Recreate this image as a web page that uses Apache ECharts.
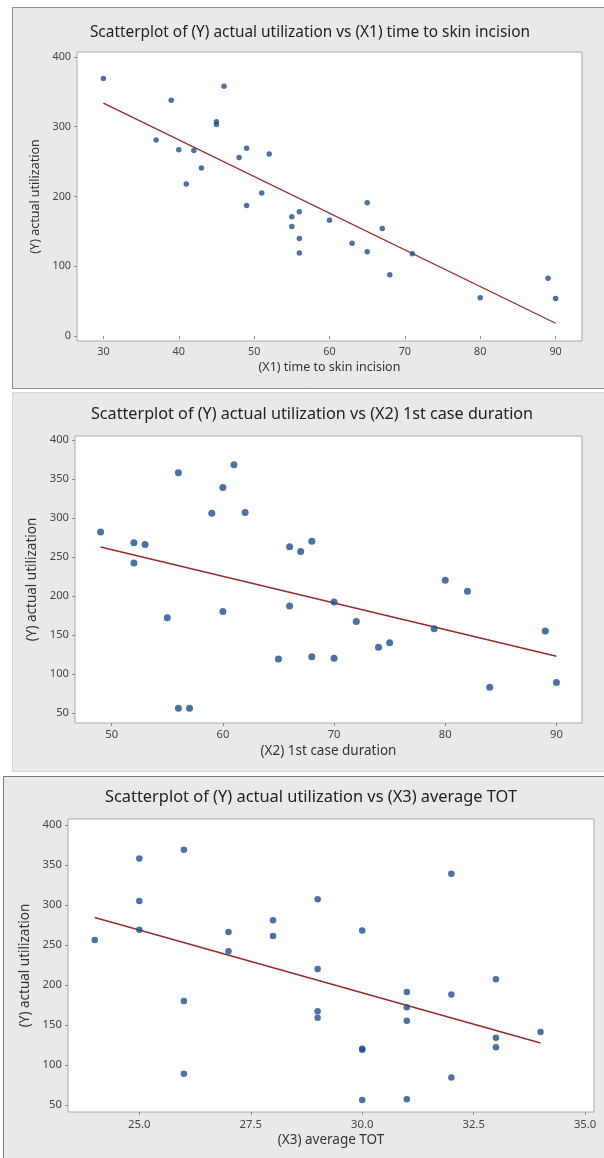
<!DOCTYPE html>
<html>
<head>
<meta charset="utf-8">
<script src="https://cdn.jsdelivr.net/npm/echarts@6.0.0/dist/echarts.min.js"></script>
<style>
html,body{margin:0;padding:0;background:#ffffff;}
#chart{width:604px;height:1158px;}
</style>
</head>
<body>
<div id="chart"></div>
<script>
// ---- data ----
const titles = [
  "Scatterplot of (Y) actual utilization vs (X1) time to skin incision",
  "Scatterplot of (Y) actual utilization vs (X2) 1st case duration",
  "Scatterplot of (Y) actual utilization vs (X3) average TOT"
];
const xNames = ["(X1) time to skin incision", "(X2) 1st case duration", "(X3) average TOT"];
const yName = "(Y) actual utilization";

const x1 = [30,46,39,45,45,37,40,42,49,48,52,43,41,51,49,55,56,55,56,56,60,65,67,63,65,71,68,80,89,90];
const y1 = [369,358,338,303,307,281,267,266,269,256,261,241,218,205,187,171,178,157,140,119,166,191,154,133,121,118,88,55,83,54];

const x2 = [49,52,53,52,56,61,60,59,62,66,67,68,55,56,57,60,65,66,68,70,70,72,74,75,79,80,82,84,89,90];
const y2 = [282,268,266,242,358,368,339,306,307,263,257,270,172,56,56,180,119,187,122,192,120,167,134,140,158,220,206,83,155,89];

const x3 = [24,25,25,25,26,27,27,28,28,29,30,32,29,33,26,31,32,29,29,31,31,34,33,33,30,30,26,32,30,31];
const y3 = [256,358,305,269,369,266,242,281,261,307,268,339,220,207,180,191,188,167,159,172,155,141,134,122,119,120,89,84,56,57];

const xTicks1 = [30,40,50,60,70,80,90];
const yTicks1 = [0,100,200,300,400];
const xTicks2 = [50,60,70,80,90];
const yTicks2 = [50,100,150,200,250,300,350,400];
const xTicks3 = [25.0,27.5,30.0,32.5,35.0];
const yTicks3 = [50,100,150,200,250,300,350,400];

// ---- helpers ----
function pairs(xs, ys){ return xs.map((x,i)=>[x, ys[i]]); }
function fitLine(xs, ys){
  const n = xs.length;
  const mx = xs.reduce((a,b)=>a+b,0)/n, my = ys.reduce((a,b)=>a+b,0)/n;
  let sxy=0, sxx=0;
  for(let i=0;i<n;i++){ sxy += (xs[i]-mx)*(ys[i]-my); sxx += (xs[i]-mx)*(xs[i]-mx); }
  const b = sxy/sxx, a = my - b*mx;
  const lo = Math.min(...xs), hi = Math.max(...xs);
  return [[lo, a+b*lo],[hi, a+b*hi]];
}

const FONT = "'Segoe UI','Noto Sans','Open Sans',sans-serif";
const PT = '#1f4e8f';
const LINE = '#9a2b2b';

const panels = [
  {xs:x1, ys:y1, xt:xTicks1, yt:yTicks1, grid:{left:77, top:52, width:505, height:289},
   xmin:26.5, xmax:93.5, ymin:-7, ymax:407, fmt:v=>String(v), tick:10.8, tickMargin:5,
   nameSize:12.5, nameGapX:20, nameGapY:30, sym:5.5, lw:1.3},
  {xs:x2, ys:y2, xt:xTicks2, yt:yTicks2, grid:{left:75, top:436, width:507, height:287},
   xmin:46.7, xmax:92.3, ymin:37, ymax:405, fmt:v=>String(v), tick:11.2, tickMargin:6,
   nameSize:13.5, nameGapX:21, nameGapY:30, sym:7, lw:1.5},
  {xs:x3, ys:y3, xt:xTicks3, yt:yTicks3, grid:{left:68, top:819, width:526, height:293},
   xmin:23.4, xmax:35.2, ymin:41, ymax:407.5, fmt:v=>v.toFixed(1), tick:11.3, tickMargin:7,
   nameSize:13.5, nameGapX:21, nameGapY:30, sym:6.5, lw:1.5}
];

const grids=[], xAxes=[], yAxes=[], series=[];
panels.forEach((p,i)=>{
  grids.push(Object.assign({show:true, backgroundColor:'#ffffff', borderColor:'#a9a9a9', borderWidth:1}, p.grid));
  xAxes.push({
    type:'value', gridIndex:i, min:p.xmin, max:p.xmax,
    name:xNames[i], nameLocation:'middle', nameGap:p.nameGapX,
    nameTextStyle:{fontFamily:FONT, fontSize:p.nameSize, color:'#333'},
    axisLine:{show:false}, splitLine:{show:false},
    axisTick:{show:true, inside:false, length:3, customValues:p.xt, lineStyle:{color:'#888'}},
    axisLabel:{customValues:p.xt, formatter:p.fmt, fontFamily:FONT, fontSize:p.tick, color:'#444', margin:p.tickMargin}
  });
  yAxes.push({
    type:'value', gridIndex:i, min:p.ymin, max:p.ymax,
    name:yName, nameLocation:'middle', nameGap:p.nameGapY, nameRotate:90,
    nameTextStyle:{fontFamily:FONT, fontSize:p.nameSize, color:'#333'},
    axisLine:{show:false}, splitLine:{show:false},
    axisTick:{show:true, inside:false, length:3, customValues:p.yt, lineStyle:{color:'#888'}},
    axisLabel:{customValues:p.yt, fontFamily:FONT, fontSize:p.tick, color:'#444', margin:6}
  });
  series.push({
    type:'line', xAxisIndex:i, yAxisIndex:i, data:fitLine(p.xs,p.ys),
    symbol:'none', lineStyle:{color:LINE, width:p.lw}, silent:true, z:2, animation:false
  });
  series.push({
    type:'scatter', xAxisIndex:i, yAxisIndex:i, data:pairs(p.xs,p.ys),
    symbol:'circle', symbolSize:p.sym, itemStyle:{color:PT}, z:3, animation:false
  });
});

const chart = echarts.init(document.getElementById('chart'), null, {renderer:'canvas'});
chart.setOption({
  animation:false,
  backgroundColor:'#ffffff',
  graphic:[
    {type:'rect', z:-10, shape:{x:12.5, y:7.5, width:600, height:381}, style:{fill:'#e9e9e9', stroke:'#8a8a8a', lineWidth:1}},
    {type:'rect', z:-10, shape:{x:12.5, y:392.5, width:600, height:379}, style:{fill:'#e9e9e9', stroke:'#d6d6d6', lineWidth:1}},
    {type:'rect', z:-10, shape:{x:3.5, y:776.5, width:610, height:390}, style:{fill:'#e9e9e9', stroke:'#7a7a7a', lineWidth:1}},
    {type:'text', x:310, y:33, style:{text:titles[0], fontFamily:FONT, fontSize:15.4, fill:'#222', align:'center', verticalAlign:'middle'}},
    {type:'text', x:312, y:414, style:{text:titles[1], fontFamily:FONT, fontSize:16.2, fill:'#222', align:'center', verticalAlign:'middle'}},
    {type:'text', x:311, y:797, style:{text:titles[2], fontFamily:FONT, fontSize:16.4, fill:'#222', align:'center', verticalAlign:'middle'}}
  ],
  grid:grids, xAxis:xAxes, yAxis:yAxes, series:series
});
</script>
</body>
</html>
